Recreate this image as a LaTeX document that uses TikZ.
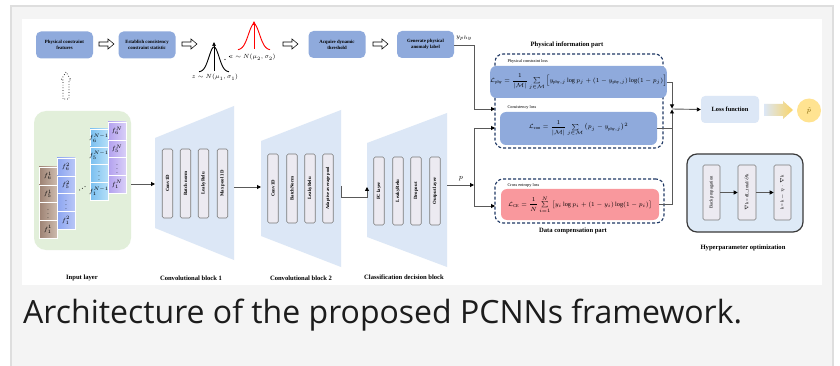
\documentclass[tikz,border=0pt]{standalone}
\usepackage{fontspec}
\setmainfont{Liberation Serif}
\newfontfamily\capfont{Open Sans}
\usepackage{amsmath}
\usetikzlibrary{arrows.meta,shapes.arrows,calc}

\definecolor{cardgray}{HTML}{F4F4F4}
\definecolor{cardline}{HTML}{DEDEDE}
\definecolor{midblue}{HTML}{8FAADC}
\definecolor{paleblue}{HTML}{DCE7F6}
\definecolor{trapblue}{HTML}{DCE7F6}
\definecolor{palegreen}{HTML}{E2EFDA}
\definecolor{lossred}{HTML}{F9989D}
\definecolor{goldfill}{HTML}{FFE391}
\definecolor{goldarrow}{HTML}{F9D467}
\definecolor{goldtext}{HTML}{7F6000}
\definecolor{navy}{HTML}{1F3864}
\definecolor{wirecol}{HTML}{595959}
\definecolor{chip}{HTML}{ECEAF1}
\definecolor{chipline}{HTML}{7A7A7A}
\definecolor{gauss}{HTML}{FF0000}
\definecolor{hypfill}{HTML}{DEEAF7}
\definecolor{hypline}{HTML}{3A3A3A}
\definecolor{captext}{HTML}{1C1C1C}
\definecolor{brownA}{HTML}{9C8172}
\definecolor{brownB}{HTML}{CDBBAE}
\definecolor{blueA}{HTML}{8BA4F0}
\definecolor{blueB}{HTML}{B9C7F7}
\definecolor{cyanA}{HTML}{79BEF0}
\definecolor{cyanB}{HTML}{B6E0F8}
\definecolor{violetA}{HTML}{B2A0EE}
\definecolor{violetB}{HTML}{D9CFF8}

\tikzset{
  % block arrow: length, shaft half-width, head half-width, head length
  pics/blockarrow/.style n args={4}{code={
    \path[pic actions] (-#1/2,-#2) -- (#1/2-#4,-#2) -- (#1/2-#4,-#3) -- (#1/2,0)
      -- (#1/2-#4,#3) -- (#1/2-#4,#2) -- (-#1/2,#2) -- cycle;
  }},
  stagebox/.style={rounded corners=5pt, fill=midblue, align=center, inner sep=0pt,
    minimum width=57pt, minimum height=27pt, font=\fontsize{4.8}{5.8}\selectfont\bfseries},
  hollow/.style={draw, line width=0.55pt, fill=white},
  wire/.style={draw=wirecol, line width=0.9pt},
  tip/.style={-{Triangle[length=4pt,width=4pt,color=black]}},
  layerbox/.style={rotate=90, rounded corners=1.5pt, draw=chipline, fill=chip, line width=0.6pt,
    inner sep=0pt, minimum height=10.5pt, font=\fontsize{4.8}{5.5}\selectfont\bfseries},
  celltext/.style={inner sep=0pt, font=\fontsize{5.8}{6.5}\selectfont},
  blocktitle/.style={font=\fontsize{6.6}{7.5}\selectfont\bfseries},
  smalllab/.style={anchor=west, font=\fontsize{4.3}{5}\selectfont},
  lossbox/.style={rounded corners=6pt, inner sep=0pt, font=\fontsize{6.2}{7}\selectfont},
  dashbox/.style={draw=navy, dash pattern=on 3pt off 2pt, line width=1.1pt, rounded corners=8pt,
    inner sep=0pt},
}

% one column of feature cells: x-left, y-top, left colour, right colour, superscript, name
\newcommand\featstack[6]{%
  \foreach \lab [count=\k from 0] in {{f_6^{#5}},{f_5^{#5}},{\vdots},{f_1^{#5}}} {
    \shade[left color=#3, right color=#4] (#1, #2+17.8*\k) rectangle ++(18,17.8);
    \draw[white, line width=0.4pt] (#1, #2+17.8*\k) rectangle ++(18,17.8);
    \node[celltext] (#6-\k) at (#1+9, #2+8.9+17.8*\k) {$\lab$};
  }%
}

\begin{document}
\begin{tikzpicture}[x=1pt, y=-1pt]
\useasboundingbox (0,0) rectangle (840,366);
\fill[white] (0,0) rectangle (840,366);
% card and white panel
\filldraw[fill=cardgray, draw=cardline, line width=1.5pt] (11,6) rectangle (833,370);
\fill[white] (22,19) rectangle (822,285);

% ---------- top row: physical statistics pipeline ----------
\node[stagebox] (feat) at (64.5,45) {Physical constraint\\features};
\node[stagebox] (stat) at (147,45) {Establish consistency\\constraint statistic};
\node[stagebox] (thr) at (337,44.5) {Acquire dynamic\\threshold};
\node[stagebox] (gen) at (425.5,44.5) {Generate physical\\anomaly label};

\pic[hollow] (h1) at (106.5,44) {blockarrow={15}{2}{5}{6}};
\pic[hollow] (h2) at (189.5,44) {blockarrow={15}{2}{5}{6}};
\pic[hollow] (h3) at (290.5,44) {blockarrow={15}{2}{5}{6}};
\pic[hollow] (h4) at (380.5,44) {blockarrow={15}{2}{5}{6}};

% dotted arrow up from the input layer
\pic[draw, dotted, line width=0.7pt, rotate=90] (up) at (66,85.5) {blockarrow={27}{3}{5}{8}};

% two normal densities
\draw[line width=0.9pt] plot[domain=199:229, samples=60, smooth]
  (\x, {72-25*exp(-((\x-214)*(\x-214))/50)});
\draw[-{Triangle[length=4pt,width=3.5pt]}, line width=0.7pt] (214,71) -- (214,42);
\draw[gauss, line width=0.9pt] plot[domain=238:270, samples=60, smooth]
  (\x, {50-26*exp(-((\x-254)*(\x-254))/60)});
\draw[gauss, -{Triangle[length=4pt,width=3.5pt]}, line width=0.7pt] (254,49) -- (254,21);
\node[font=\fontsize{6}{7}\selectfont] (g1) at (215,77.5) {$z\sim N(\mu_1,\sigma_1)$};
\node[font=\fontsize{6}{7}\selectfont] (g2) at (252.5,57.5) {$z\sim N(\mu_2,\sigma_2)$};
\fill (225,59.5) circle (0.6pt);
\fill (229.5,56.5) circle (0.6pt);

% ---------- input layer ----------
\node[rounded corners=12pt, fill=palegreen, minimum width=97pt, minimum height=139pt, inner sep=0pt]
  (inp) at (82.5,180.5) {};
\featstack{39}{167}{brownA}{brownB}{1}{sa}
\featstack{57}{158}{blueA}{blueB}{2}{sb}
\featstack{90}{129}{cyanA}{cyanB}{N-1}{sc}
\featstack{108}{122}{violetA}{violetB}{N}{sd}
\fill (79.5,190) circle (0.5pt);
\fill (82.3,188.3) circle (0.5pt);
\fill (85,186.6) circle (0.5pt);

% ---------- convolutional block 1 ----------
\fill[trapblue] (155,138) -- (234,106) -- (234,260) -- (155,228) -- cycle;
\coordinate (c1in) at (155,184);
\coordinate (c1out) at (234,187);
\node[layerbox, minimum width=69pt] (c1a) at (167.5,183.5) {Conv1D};
\node[layerbox, minimum width=69pt] (c1b) at (185.5,183.5) {Batch norm};
\node[layerbox, minimum width=69pt] (c1c) at (203.5,183.5) {LeakyRelu};
\node[layerbox, minimum width=69pt] (c1d) at (222.5,183.5) {Max pool 1D};

% ---------- convolutional block 2 ----------
\fill[trapblue] (261,141) -- (341,110) -- (341,267) -- (261,236) -- cycle;
\coordinate (c2in) at (261,187);
\coordinate (c2out) at (341,186);
\node[layerbox, minimum width=69pt] (c2a) at (273,188.5) {Conv1D};
\node[layerbox, minimum width=69pt] (c2b) at (292,188.5) {BatchNorm};
\node[layerbox, minimum width=69pt] (c2c) at (310,188.5) {LeakyRelu};
\node[layerbox, minimum width=69pt, font=\fontsize{4.5}{5}\selectfont\bfseries] (c2d) at (328,188.5) {Adaptive average pool};

% ---------- classification decision block ----------
\fill[trapblue] (367,143) -- (447,113) -- (447,267) -- (367,237) -- cycle;
\coordinate (clin) at (367,187);
\coordinate (clout) at (447,185);
\node[layerbox, minimum width=68pt] (cla) at (379,191) {FC layer};
\node[layerbox, minimum width=68pt] (clb) at (398,191) {LeakyRelu};
\node[layerbox, minimum width=68pt] (clc) at (416,191) {Dropout};
\node[layerbox, minimum width=68pt] (cld) at (435,191) {Output layer};

% forward path
\draw[wire, tip] (inp.east |- 0,184) -- (c1in);
\draw[wire, tip] (c1out) -- (c2in);
\draw[wire, tip] (c2out) -- (341,197) -| (clin);

% ---------- loss terms ----------
\node[dashbox, minimum width=168pt, minimum height=94pt] (phys) at (579,101) {};
\node[blocktitle] (physt) at (567,45) {Physical information part};
\node[smalllab] (lphyt) at (504,61) {Physical constraint loss};
\node[lossbox, fill=midblue, minimum width=157pt, minimum height=32pt] (lphy) at (578.5,82)
  {$\mathcal{L}_{\mathrm{phy}}=\dfrac{1}{|\mathcal{M}|}\sum\limits_{j\in\mathcal{M}}\Big[y_{\mathrm{phy},j}\log p_j+(1-y_{\mathrm{phy},j})\log(1-p_j)\Big]$};
\node[smalllab] (lcont) at (504,107) {Consistency loss};
\node[lossbox, fill=midblue, minimum width=157pt, minimum height=33pt] (lcon) at (578.5,128.5)
  {$\mathcal{L}_{\mathrm{con}}=\dfrac{1}{|\mathcal{M}|}\sum\limits_{j\in\mathcal{M}}\big(p_j-y_{\mathrm{phy},j}\big)^2$};

\node[dashbox, minimum width=169pt, minimum height=44pt] (data) at (579.5,201) {};
\node[blocktitle] (datat) at (573,231) {Data compensation part};
\node[smalllab] (cet) at (504,185) {Cross entropy loss};
\node[lossbox, fill=lossred, minimum width=158pt, minimum height=31pt] (ce) at (580,204.5)
  {$\mathcal{L}_{\mathrm{CE}}=\dfrac{1}{N}\sum\limits_{i=1}^{N}\big[y_i\log p_i+(1-y_i)\log(1-p_i)\big]$};

% label and prediction routing
\draw[wire, tip] (gen.east |- 0,45) -- (474,45) |- (495,109);
\node[font=\fontsize{6.5}{7}\selectfont] (yl) at (464,38) {$y_{phy}$};
\coordinate (pj) at (474,185);
\draw[wire, tip] (clout) -- (pj);
\node[font=\fontsize{7}{8}\selectfont] (pl) at (461,179) {$p$};
\draw[wire, tip] (474,128) -- (495,128);
\draw[wire, tip] (474,206) -- (495,206);
\draw[wire] (474,128) -- (474,206);

% merge into the loss function
\coordinate (jn) at (672,109);
\draw[wire, tip] (lphy.east) -| (672,108.5);
\draw[wire] (lcon.east) -- (672,128.5);
\draw[wire, tip] (ce.east) -| (672,109.5);
\node[rounded corners=4pt, fill=paleblue, minimum width=58pt, minimum height=27pt, inner sep=0pt,
      font=\fontsize{6.4}{7}\selectfont\bfseries] (loss) at (730,109.5) {Loss function};
\draw[wire, tip] (jn) -- (loss.west);

\pic[left color=paleblue, right color=goldarrow] (ga) at (778.5,110) {blockarrow={29}{6}{9}{10}};
\node[circle, fill=goldfill, minimum size=24pt, inner sep=0pt, text=goldtext,
      font=\fontsize{7}{8}\selectfont] (phat) at (809,110.5) {$\hat{p}$};

% ---------- hyperparameter optimisation ----------
\node[rounded corners=10pt, draw=hypline, line width=1.2pt, fill=hypfill,
      minimum width=116pt, minimum height=78pt, inner sep=0pt] (hyp) at (745,193) {};
\node[layerbox, minimum width=55pt, minimum height=17pt, font=\fontsize{4.6}{5}\selectfont] (bp) at (711.5,192.5) {Back propagation};
\node[layerbox, minimum width=55pt, minimum height=18pt, font=\fontsize{4.6}{5}\selectfont] (gr) at (747,192.5) {$\nabla$k = dL\_total/$\partial$k};
\node[layerbox, minimum width=55pt, minimum height=17pt, font=\fontsize{4.6}{5}\selectfont] (up2) at (782.5,192.5) {k = k $-$ $\eta\cdot\nabla$k};
\draw[wire, tip] (bp.south) -- (gr.north);
\draw[wire, tip] (gr.south) -- (up2.north);

% ---------- block captions ----------
\node[blocktitle] (t1) at (82,278) {Input layer};
\node[blocktitle] (t2) at (191,278) {Convolutional block 1};
\node[blocktitle] (t3) at (301,278) {Convolutional block 2};
\node[blocktitle] (t4) at (404,277.5) {Classification decision block};
\node[blocktitle] (t5) at (743,248) {Hyperparameter optimization};

% figure caption
\node[anchor=base west, inner sep=0pt, text=captext, font=\capfont\fontsize{32}{35}\selectfont]
  (cap) at (23,323) {Architecture of the proposed PCNNs framework.};
\end{tikzpicture}
\end{document}
